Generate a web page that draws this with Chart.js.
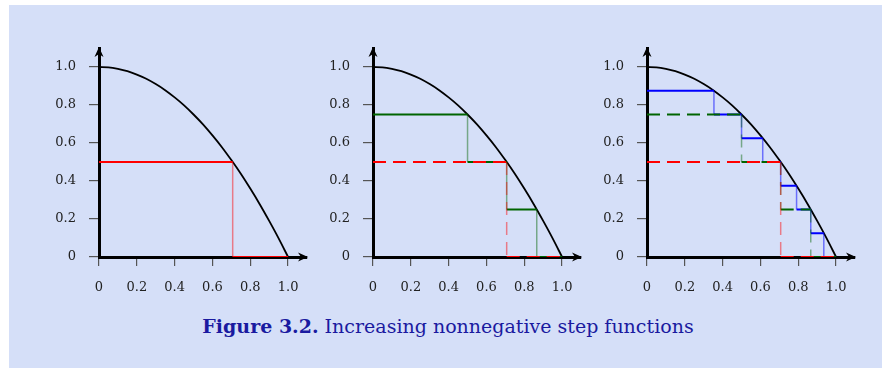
<!DOCTYPE html>
<html>
<head>
<meta charset="utf-8">
<script src="https://cdn.jsdelivr.net/npm/chart.js@4/dist/chart.umd.min.js"></script>
<style>
  html, body { margin: 0; padding: 0; background: #fff; }
  body { width: 882px; height: 368px; position: relative; overflow: hidden; }
  #frame { position: absolute; left: 9px; top: 5px; width: 873px; height: 363px; background: #d5dff8; }
  canvas { position: absolute; }
  #caption { position: absolute; left: 7px; width: 882px; top: 315px; text-align: center;
    font-family: "DejaVu Serif", "Liberation Serif", serif; font-size: 19px; color: #1a1aa0; }
  #caption b { font-weight: bold; }
</style>
</head>
<body>
<div id="frame"></div>
<canvas id="c1" width="278" height="259" style="left:39px;top:38px"></canvas>
<canvas id="c2" width="278" height="259" style="left:313px;top:38px"></canvas>
<canvas id="c3" width="278" height="259" style="left:587px;top:38px"></canvas>
<div id="caption"><b>Figure 3.2.</b> Increasing nonnegative step functions</div>
<script>
// curve
var curveX = [0, 0.05, 0.1, 0.15, 0.2, 0.25, 0.3, 0.35, 0.4, 0.45, 0.5, 0.55, 0.6, 0.65, 0.7, 0.75, 0.8, 0.85, 0.9, 0.95, 1.0];
var curveY = [1.0, 0.998, 0.99, 0.978, 0.96, 0.938, 0.91, 0.878, 0.84, 0.798, 0.75, 0.698, 0.64, 0.578, 0.51, 0.438, 0.36, 0.278, 0.19, 0.098, 0];

// step functions: break points and level on each interval
var redBreaks = [0, 0.707, 1.0];
var redLevels = [0.5, 0];
var greenBreaks = [0, 0.5, 0.707, 0.866, 1.0];
var greenLevels = [0.75, 0.5, 0.25, 0];
var blueBreaks = [0, 0.354, 0.5, 0.612, 0.707, 0.791, 0.866, 0.935, 1.0];
var blueLevels = [0.875, 0.75, 0.625, 0.5, 0.375, 0.25, 0.125, 0];

var tickValues = [0, 0.2, 0.4, 0.6, 0.8, 1.0];
var tickLabels = ["0", "0.2", "0.4", "0.6", "0.8", "1.0"];

var FONT = { family: "'DejaVu Serif', 'Liberation Serif', serif", size: 13 };

function curvePoints() {
	return curveX.map(function(x, i) { return { x: x, y: curveY[i] }; });
}

function stepPoints(aBreaks, aLevels) {
	var pts = [];
	for (var i = 0; i < aLevels.length; i++) {
		pts.push({ x: aBreaks[i], y: aLevels[i] });
		pts.push({ x: aBreaks[i + 1], y: aLevels[i] });
	}
	return pts;
}

function stepSet(aBreaks, aLevels, sColor, sFaint, bDashed) {
	return {
		data: stepPoints(aBreaks, aLevels),
		borderColor: sColor,
		borderWidth: 2,
		borderDash: bDashed ? [13, 7] : [],
		pointRadius: 0,
		tension: 0,
		segment: {
			borderColor: function(ctx) {
				return ctx.p0.parsed.x === ctx.p1.parsed.x ? sFaint : sColor;
			},
			borderWidth: function(ctx) {
				return ctx.p0.parsed.x === ctx.p1.parsed.x ? 1.5 : 2;
			}
		}
	};
}

var arrows = {
	id: "arrows",
	afterDraw: function(chart) {
		var ctx = chart.ctx, a = chart.chartArea;
		ctx.save();
		ctx.fillStyle = "#000";
		// x arrow
		ctx.beginPath();
		ctx.moveTo(a.right + 1, a.bottom);
		ctx.lineTo(a.right - 9, a.bottom - 4.5);
		ctx.lineTo(a.right - 6, a.bottom);
		ctx.lineTo(a.right - 9, a.bottom + 4.5);
		ctx.closePath();
		ctx.fill();
		// y arrow
		ctx.beginPath();
		ctx.moveTo(a.left, a.top - 1);
		ctx.lineTo(a.left - 4.5, a.top + 9);
		ctx.lineTo(a.left, a.top + 6);
		ctx.lineTo(a.left + 4.5, a.top + 9);
		ctx.closePath();
		ctx.fill();
		ctx.restore();
	}
};

function fixTicks(scale) {
	scale.ticks = tickValues.map(function(v) { return { value: v }; });
}

function makeChart(sId, aSets) {
	aSets.push({
		data: curvePoints(),
		borderColor: "#000",
		borderWidth: 1.8,
		pointRadius: 0,
		cubicInterpolationMode: "monotone"
	});
	return new Chart(document.getElementById(sId), {
		type: "line",
		data: { datasets: aSets },
		plugins: [arrows],
		options: {
			responsive: false,
			animation: false,
			layout: { padding: { top: 10, right: 10, left: 0, bottom: 0 } },
			plugins: { legend: { display: false }, tooltip: { enabled: false } },
			scales: {
				x: {
					type: "linear", min: 0, max: 1.1,
					afterBuildTicks: fixTicks,
					afterFit: function(s) { s.height = 40; s.paddingLeft = 0; s.paddingRight = 0; },
					grid: { drawOnChartArea: false, tickLength: 9, color: "#555", lineWidth: 1.2 },
					border: { color: "#000", width: 3 },
					ticks: {
						font: FONT, color: "#222", padding: 14, maxRotation: 0,
						callback: function(v) { return tickLabels[tickValues.indexOf(v)]; }
					}
				},
				y: {
					type: "linear", min: 0, max: 1.1,
					afterBuildTicks: fixTicks,
					afterFit: function(s) { s.width = 60; s.paddingTop = 0; s.paddingBottom = 0; },
					grid: { drawOnChartArea: false, tickLength: 10, color: "#555", lineWidth: 1.2 },
					border: { color: "#000", width: 3 },
					ticks: {
						font: FONT, color: "#222", padding: 13,
						callback: function(v) { return tickLabels[tickValues.indexOf(v)]; }
					}
				}
			}
		}
	});
}

makeChart("c1", [
	stepSet(redBreaks, redLevels, "#ff0000", "rgba(255,0,0,0.45)", false)
]);
makeChart("c2", [
	stepSet(redBreaks, redLevels, "#ff0000", "rgba(255,0,0,0.45)", true),
	stepSet(greenBreaks, greenLevels, "#006400", "rgba(0,100,0,0.45)", false)
]);
makeChart("c3", [
	stepSet(redBreaks, redLevels, "#ff0000", "rgba(255,0,0,0.45)", true),
	stepSet(greenBreaks, greenLevels, "#006400", "rgba(0,100,0,0.45)", true),
	stepSet(blueBreaks, blueLevels, "#0000ff", "rgba(0,0,255,0.5)", false)
]);
</script>
</body>
</html>
